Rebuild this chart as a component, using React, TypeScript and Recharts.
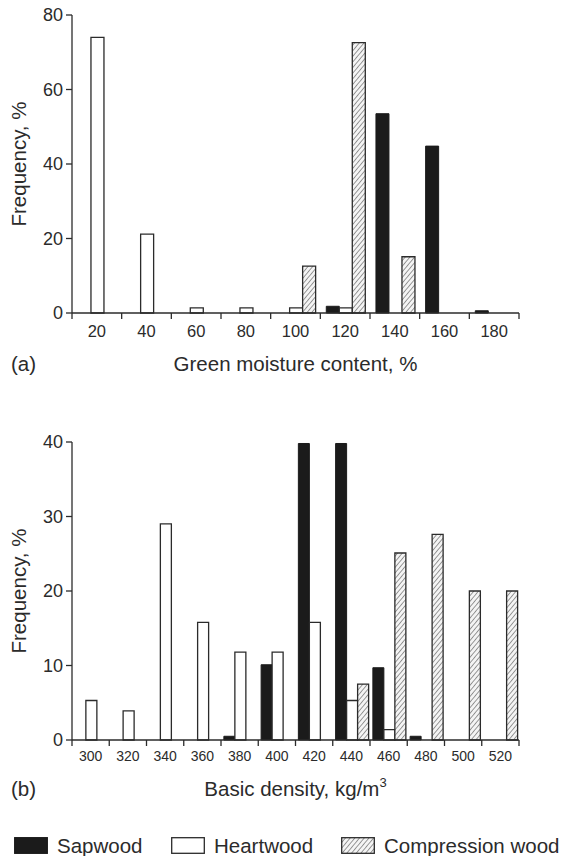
import React from "react";
import { BarChart, Bar, XAxis, YAxis } from "recharts";

// (a) green moisture content, %
const moistureCats = ["20", "40", "60", "80", "100", "120", "140", "160", "180"];
const moistureSapwood = [0, 0, 0, 0, 0, 1.8, 53.5, 44.8, 0.6];
const moistureHeartwood = [74, 21.2, 1.4, 1.4, 1.4, 1.4, 0, 0, 0];
const moistureCompression = [0, 0, 0, 0, 12.6, 72.6, 15.1, 0, 0];
const moistureTicks = [0, 20, 40, 60, 80];

// (b) basic density, kg/m3
const densityCats = ["300", "320", "340", "360", "380", "400", "420", "440", "460", "480", "500", "520"];
const densitySapwood = [0, 0, 0, 0, 0.5, 10.1, 39.8, 39.8, 9.7, 0.5, 0, 0];
const densityHeartwood = [5.3, 3.9, 29, 15.8, 11.8, 11.8, 15.8, 5.3, 1.4, 0, 0, 0];
const densityCompression = [0, 0, 0, 0, 0, 0, 0, 7.5, 25.1, 27.6, 20, 20];
const densityTicks = [0, 10, 20, 30, 40];

const FONT = '"Liberation Sans", Arial, Helvetica, sans-serif';
const INK = "#2b2b2b";
const BLACK = "#1b1b1b";

const W = 565;
const H = 345;
const M = { top: 15, right: 46, bottom: 2, left: 12 };
const Y_AXIS_W = 60;
const X_AXIS_H = 30;
const PLOT_LEFT = M.left + Y_AXIS_W;
const PLOT_RIGHT = W - M.right;
const PLOT_BOTTOM = H - M.bottom - X_AXIS_H;

const toRows = (cats: string[], sap: number[], heart: number[], comp: number[]) =>
  cats.map((cat, i) => ({ cat, sapwood: sap[i], heartwood: heart[i], compression: comp[i] }));

// ticks sit on the bin edges, labels in the middle of each bin
function EdgeTick(props: any) {
  const { x, payload, index, count, fontSize, labelY } = props;
  const band = (PLOT_RIGHT - PLOT_LEFT) / count;
  const left = x - band / 2;
  return (
    <g>
      <line x1={left} x2={left} y1={PLOT_BOTTOM} y2={PLOT_BOTTOM + 6} stroke={INK} strokeWidth={1.3} />
      {index === count - 1 && (
        <line x1={x + band / 2} x2={x + band / 2} y1={PLOT_BOTTOM} y2={PLOT_BOTTOM + 6} stroke={INK} strokeWidth={1.3} />
      )}
      <text x={x} y={labelY} textAnchor="middle" dominantBaseline="central" fontSize={fontSize} fontFamily={FONT} fill={INK}>
        {payload.value}
      </text>
    </g>
  );
}

function Hatch({ id }: { id: string }) {
  return (
    <pattern id={id} patternUnits="userSpaceOnUse" width={3.6} height={3.6} patternTransform="rotate(40)">
      <rect width={3.6} height={3.6} fill="#f4f4f4" />
      <line x1={0} y1={0} x2={0} y2={3.6} stroke="#666" strokeWidth={1.3} />
    </pattern>
  );
}

function Panel(props: any) {
  const { top, rows, yMax, yTicks, tickFont, gap, hatchId, labelY } = props;
  const axisStyle = { stroke: INK, strokeWidth: 1.3 };
  return (
    <div style={{ position: "absolute", left: 0, top, width: W, height: H }}>
      <BarChart width={W} height={H} data={rows} margin={M} barGap={0} barCategoryGap={gap}>
        <defs>
          <Hatch id={hatchId} />
        </defs>
        <XAxis
          dataKey="cat"
          height={X_AXIS_H}
          interval={0}
          tickLine={false}
          axisLine={axisStyle}
          tick={(p: any) => <EdgeTick {...p} count={rows.length} fontSize={tickFont} labelY={labelY} />}
        />
        <YAxis
          width={Y_AXIS_W}
          domain={[0, yMax]}
          ticks={yTicks}
          interval={0}
          tickSize={6}
          tickMargin={3}
          tickLine={axisStyle}
          axisLine={axisStyle}
          tick={{ fontSize: 18, fill: INK, fontFamily: FONT }}
        />
        <Bar dataKey="sapwood" fill={BLACK} stroke={BLACK} strokeWidth={1} isAnimationActive={false} />
        <Bar dataKey="heartwood" fill="#ffffff" stroke={INK} strokeWidth={1.3} isAnimationActive={false} />
        <Bar dataKey="compression" fill={`url(#${hatchId})`} stroke={INK} strokeWidth={1.3} isAnimationActive={false} />
      </BarChart>
    </div>
  );
}

const textBase: React.CSSProperties = {
  position: "absolute",
  fontFamily: FONT,
  fontSize: 20.5,
  color: INK,
  whiteSpace: "nowrap",
  lineHeight: 1,
};

function YTitle({ cy }: { cy: number }) {
  return (
    <div style={{ ...textBase, left: 19, top: cy, transform: "translate(-50%, -50%) rotate(-90deg)" }}>
      Frequency, %
    </div>
  );
}

function XTitle({ cy, tag, children }: { cy: number; tag: string; children: React.ReactNode }) {
  const cx = (PLOT_LEFT + PLOT_RIGHT) / 2;
  return (
    <>
      <div style={{ ...textBase, left: 11, top: cy, transform: "translateY(-50%)" }}>{tag}</div>
      <div style={{ ...textBase, left: cx, top: cy, transform: "translate(-50%, -50%)" }}>{children}</div>
    </>
  );
}

function LegendItem({ left, label, kind }: { left: number; label: string; kind: string }) {
  const fill = kind === "sap" ? BLACK : kind === "heart" ? "#fff" : "url(#hatchLegend)";
  return (
    <div style={{ position: "absolute", left, top: 0, display: "flex", alignItems: "center", height: 17 }}>
      <svg width={34} height={17} style={{ display: "block" }}>
        <defs>
          <Hatch id="hatchLegend" />
        </defs>
        <rect x={0.7} y={0.7} width={32.6} height={15.6} fill={fill} stroke={kind === "sap" ? BLACK : INK} strokeWidth={1.3} />
      </svg>
      <span style={{ fontFamily: FONT, fontSize: 20.5, color: INK, marginLeft: 9, whiteSpace: "nowrap" }}>{label}</span>
    </div>
  );
}

export default function App() {
  const topRows = toRows(moistureCats, moistureSapwood, moistureHeartwood, moistureCompression);
  const bottomRows = toRows(densityCats, densitySapwood, densityHeartwood, densityCompression);
  return (
    <div style={{ position: "absolute", left: 0, top: 0, width: W, height: 856, background: "#fff" }}>
      <Panel top={0} rows={topRows} yMax={80} yTicks={moistureTicks} tickFont={16.5} gap="12%" hatchId="hatchA" labelY={331} />
      <YTitle cy={164} />
      <XTitle cy={364} tag="(a)">Green moisture content, %</XTitle>

      <Panel top={427} rows={bottomRows} yMax={40} yTicks={densityTicks} tickFont={14} gap="7.7%" hatchId="hatchB" labelY={329} />
      <YTitle cy={591} />
      <XTitle cy={789} tag="(b)">
        Basic density, kg/m<sup style={{ fontSize: 13, verticalAlign: "top", position: "relative", top: -3 }}>3</sup>
      </XTitle>

      <div style={{ position: "absolute", left: 0, top: 837, width: W, height: 17 }}>
        <LegendItem left={14} label="Sapwood" kind="sap" />
        <LegendItem left={171} label="Heartwood" kind="heart" />
        <LegendItem left={341} label="Compression wood" kind="comp" />
      </div>
    </div>
  );
}
